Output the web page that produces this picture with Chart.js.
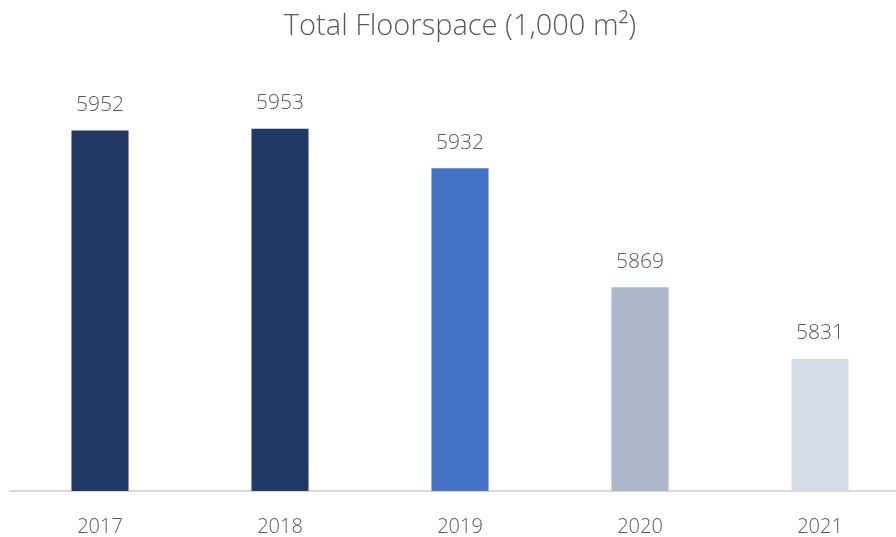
<html>
  <head>
    <title>Total Floorspace</title>
    <script src="https://cdn.jsdelivr.net/npm/chart.js@4.4.1/dist/chart.umd.min.js"></script>
    <style>
      html, body { margin: 0; padding: 0; background: #fff; overflow: hidden; }
      #wrap { width: 910px; height: 563px; }
    </style>
  </head>
  <body>
    <div id="wrap"><canvas id="floorChart"></canvas></div>
    <script>
      // data
      var years = ['2017', '2018', '2019', '2020', '2021'];
      var floorspace = [5952, 5953, 5932, 5869, 5831];
      var barColors = ['#203864', '#203864', '#4472C4', '#ADB9CA', '#D6DCE5'];

      var textGrey = '#595959';
      var fontFamily = "'Open Sans', 'Noto Sans', sans-serif";

      // draws the value over each bar
      var valueLabels = {
        id: 'valueLabels',
        afterDatasetsDraw: function (chart) {
          var ctx = chart.ctx;
          var meta = chart.getDatasetMeta(0);
          ctx.save();
          ctx.fillStyle = textGrey;
          ctx.font = '300 21px ' + fontFamily;
          ctx.textAlign = 'center';
          ctx.textBaseline = 'bottom';
          meta.data.forEach(function (bar, i) {
            ctx.fillText(String(floorspace[i]), bar.x, bar.y - 15);
          });
          ctx.restore();
        }
      };

      new Chart(document.getElementById('floorChart'), {
        type: 'bar',
        data: {
          labels: years,
          datasets: [{
            data: floorspace,
            backgroundColor: barColors,
            categoryPercentage: 1,
            barPercentage: 0.317
          }]
        },
        options: {
          responsive: true,
          maintainAspectRatio: false,
          animation: false,
          layout: { padding: { left: 10, right: 0, top: 0, bottom: 0 } },
          plugins: {
            legend: { display: false },
            tooltip: { enabled: false },
            title: {
              display: true,
              text: 'Total Floorspace (1,000 m²)',
              color: textGrey,
              font: { family: fontFamily, size: 29, weight: '300' },
              padding: { top: 9, bottom: 17 }
            }
          },
          scales: {
            x: {
              grid: { display: false, drawTicks: false },
              border: { display: true, color: '#D9D9D9', width: 2 },
              ticks: {
                color: textGrey,
                padding: 24,
                font: { family: fontFamily, size: 20, weight: '300' }
              }
            },
            y: {
              display: false,
              min: 5761,
              max: 5989
            }
          }
        },
        plugins: [valueLabels]
      });
    </script>
  </body>
</html>
